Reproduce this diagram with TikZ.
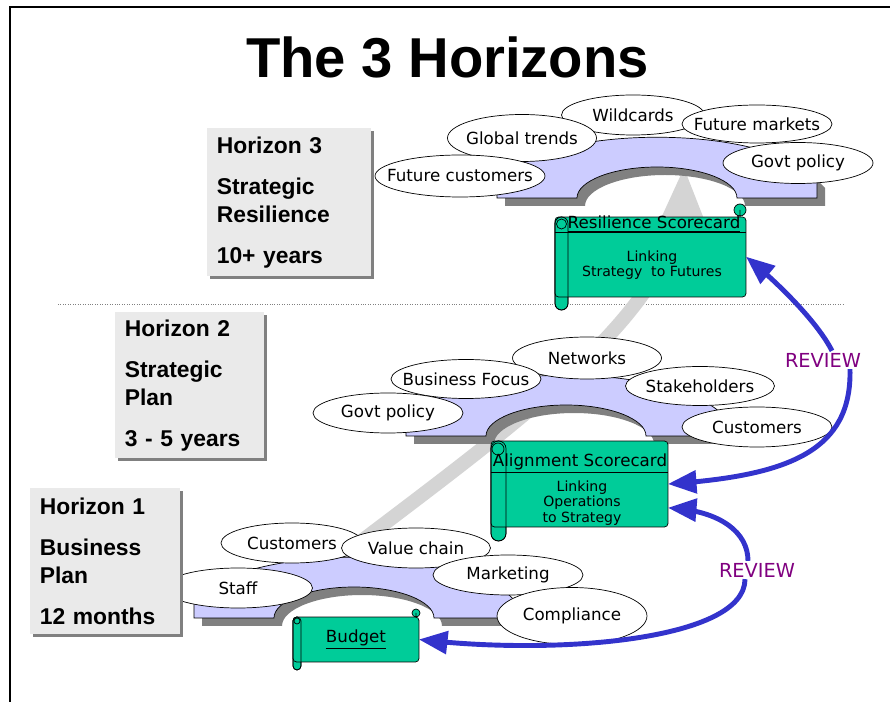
\documentclass[tikz,border=0pt]{standalone}
\usepackage{fontspec}
\setmainfont{Liberation Sans}
\newfontfamily\verdfont{DejaVu Sans}
\usepackage{tikz}
\usetikzlibrary{shapes,arrows,shadows}

\begin{document}
\begin{tikzpicture}[x=0.02cm,y=-0.02cm,
  bubble/.style={ellipse,draw,fill=white,inner xsep=-0.7cm,inner ysep=0pt,minimum width=3cm,minimum height=0.8cm,font=\verdfont\fontsize{9.5}{11}\selectfont},
  hbox/.style={anchor=north west,fill=boxGrey,inner xsep=0.19cm,inner ysep=0pt,align=left,font=\bfseries\fontsize{13}{15.9}\selectfont,drop shadow={shadow xshift=0.06cm,shadow yshift=-0.06cm,fill=shadowGrey,opacity=1}},
  scroll/.style={draw,fill=scrollGreen,rounded corners=2pt,inner sep=0pt,font=\verdfont\fontsize{9.5}{11}\selectfont},
  scrolltitle/.style={inner sep=0pt,font=\verdfont\fontsize{9.5}{11}\selectfont},
  scrolltext/.style={align=center,inner sep=0pt,font=\verdfont\fontsize{8}{8.8}\selectfont},
  review/.style={fill=white,inner sep=1pt,text=reviewPurple,font=\verdfont\fontsize{11}{13}\selectfont},
  reviewarrow/.style={->,>=triangle 45,line width=2.8pt,color=reviewBlue}]
\definecolor{boxGrey}{RGB}{234,234,234}
\definecolor{shadowGrey}{RGB}{128,128,128}
\definecolor{archBlue}{RGB}{204,204,255}
\definecolor{scrollGreen}{RGB}{0,204,153}
\definecolor{reviewBlue}{RGB}{51,51,204}
\definecolor{reviewPurple}{RGB}{128,0,128}
\definecolor{bandGrey}{RGB}{212,212,212}
\useasboundingbox (0,0) rectangle (890,702);
\draw[line width=1.1pt] (10,702) -- (10,7) -- (890,7);
\draw[densely dotted,gray] (58,304) -- (845,304);
\draw[->,>=triangle 45,line width=8pt,color=bandGrey] (330,565) .. controls (520,420) and (680,310) .. (684,168);
\foreach \cx/\by in {657/198,566/436,354/618} {
  \fill[shadowGrey,shift={(8,8)}] (\cx-160,\by) -- (\cx-160,\by-18) .. controls (\cx-110,\by-75) and (\cx+110,\by-75) .. (\cx+160,\by-18) -- (\cx+160,\by) -- (\cx+80,\by) .. controls (\cx+80,\by-17) and (\cx+44,\by-31) .. (\cx,\by-31) .. controls (\cx-44,\by-31) and (\cx-80,\by-17) .. (\cx-80,\by) -- cycle;
  \draw[fill=archBlue,thin] (\cx-160,\by) -- (\cx-160,\by-18) .. controls (\cx-110,\by-75) and (\cx+110,\by-75) .. (\cx+160,\by-18) -- (\cx+160,\by) -- (\cx+80,\by) .. controls (\cx+80,\by-17) and (\cx+44,\by-31) .. (\cx,\by-31) .. controls (\cx-44,\by-31) and (\cx-80,\by-17) .. (\cx-80,\by) -- cycle;
}
\node[bubble,minimum width=2.86cm] (wild) at (633,115) {Wildcards};
\node[bubble,minimum height=0.76cm] (futmark) at (757,124) {Future markets};
\node[bubble,minimum width=2.98cm,minimum height=0.94cm] (global) at (522,138) {Global trends};
\node[bubble,minimum width=3.4cm,minimum height=0.84cm] (futcust) at (460,176) {Future customers};
\node[bubble,minimum height=0.82cm] (govt3) at (798,163) {Govt policy};
\node[bubble,minimum width=2.98cm,minimum height=0.84cm] (netw) at (587,358) {Networks};
\node[bubble,minimum height=0.78cm] (busfoc) at (466,379) {Business Focus};
\node[bubble,minimum width=2.98cm,minimum height=0.78cm] (stake) at (700,386) {Stakeholders};
\node[bubble] (govt2) at (388,413) {Govt policy};
\node[bubble] (cust2) at (757,427) {Customers};
\node[bubble,minimum width=2.84cm] (cust1) at (292,543) {Customers};
\node[bubble,minimum width=2.98cm] (valch) at (416,548) {Value chain};
\node[bubble,minimum width=2.98cm] (staff) at (238,588) {Staff};
\node[bubble] (market) at (508,575) {Marketing};
\node[bubble,minimum height=1.14cm] (compl) at (572,616) {Compliance};
\path[draw,fill=scrollGreen,rounded corners=0.13cm] (555,217) rectangle (568,310);
\node[scroll,minimum width=3.82cm,minimum height=1.6cm] (resil) at (650.5,257) {};
\draw[rounded corners=0.13cm] (555,217) rectangle (568,310);
\draw (561.5,224) circle[radius=0.1cm];
\draw[fill=scrollGreen] (740,210) circle[radius=0.12cm] (740,210) -- (740,217);
\draw (resil.west |- 0,232) -- (resil.east |- 0,232);
\node[scrolltitle] (resilhead) at (654,224) {\underline{Resilience Scorecard}};
\node[scrolltext] (resiltext) at (652,265) {Linking\\Strategy\ \ to Futures};
\path[draw,fill=scrollGreen,rounded corners=0.15cm] (491,441) rectangle (506,541);
\node[scroll,minimum width=3.54cm,minimum height=1.72cm] (align) at (579.5,484) {};
\draw[rounded corners=0.15cm] (491,441) rectangle (506,541);
\draw (498,449) circle[radius=0.12cm];
\draw (align.west |- 0,472) -- (align.east |- 0,472);
\node[scrolltitle] (alignhead) at (580,464) {\underline{Alignment Scorecard}};
\node[scrolltext] (aligntext) at (582,503) {Linking\\Operations\\to Strategy};
\path[draw,fill=scrollGreen,rounded corners=0.08cm] (293,617) rectangle (301,670);
\node[scroll,minimum width=2.52cm,minimum height=0.9cm] (budget) at (356,639.5) {\underline{Budget}};
\draw[rounded corners=0.08cm] (293,617) rectangle (301,670);
\draw (297,621) circle[radius=0.06cm];
\draw[fill=scrollGreen] (416,613) circle[radius=0.08cm] (416,613) -- (416,617);
\node[review] (rev1) at (757,570) {REVIEW};
\node[review] (rev2) at (823,360) {REVIEW};
\draw[reviewarrow] ([xshift=-0.24cm]rev1.south) .. controls (745,640) and (560,655) .. (budget.east);
\draw[reviewarrow] ([xshift=-0.18cm]rev1.north) .. controls (748,532) and (720,512) .. (align.-15);
\draw[reviewarrow] ([xshift=0.54cm]rev2.south) .. controls (852,450) and (790,475) .. (align.east);
\draw[reviewarrow] ([xshift=0.18cm]rev2.north) .. controls (818,323) and (780,285) .. (resil.east);
\node[hbox,text width=2.9cm,minimum height=2.96cm] (hor3) at (207,128) {Horizon 3\\[7.5pt]Strategic\\Resilience\\[7.5pt]10+ years};
\node[hbox,text width=2.6cm,minimum height=2.92cm] (hor2) at (115,312) {Horizon 2\\[7.5pt]Strategic\\Plan\\[7.5pt]3 - 5 years};
\node[hbox,text width=2.62cm,minimum height=2.92cm] (hor1) at (30,488) {Horizon 1\\[7.5pt]Business\\Plan\\[7.5pt]12 months};
\node[anchor=base,font=\bfseries\fontsize{32}{38}\selectfont] (title) at (447.5,78) {The 3 Horizons};
\end{tikzpicture}
\end{document}
